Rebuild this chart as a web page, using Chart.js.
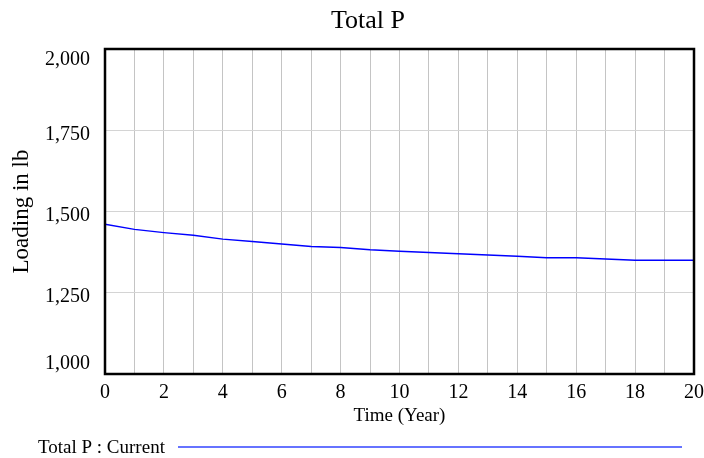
<!DOCTYPE html>
<html>
<head>
<meta charset="utf-8">
<script src="https://cdn.jsdelivr.net/npm/chart.js@4.4.0/dist/chart.umd.min.js"></script>
<style>
  html, body { margin: 0; padding: 0; background: #fff; }
  #wrap { width: 704px; height: 458px; }
</style>
</head>
<body>
<div id="wrap"><canvas id="c" width="704" height="458"></canvas></div>
<script>
const chartTitle = 'Total P';
const xAxisTitle = 'Time (Year)';
const yAxisTitle = 'Loading in lb';
const seriesLabel = 'Total P : Current';
const years = [0,1,2,3,4,5,6,7,8,9,10,11,12,13,14,15,16,17,18,19,20];
const totalP = [1461,1445,1435,1427,1415,1408,1400,1392,1389,1382,1378,1374,1370,1366,1362,1358,1358,1354,1350,1350,1350];
const yTicks = [1000,1250,1500,1750,2000];

const SERIF = "'Liberation Serif', 'Times New Roman', serif";

const framePlugin = {
  id: 'frame',
  afterDatasetsDraw(chart) {
    const { ctx, chartArea: a } = chart;
    ctx.save();
    ctx.strokeStyle = '#000';
    ctx.lineWidth = 2.5;
    ctx.strokeRect(a.left, a.top, a.right - a.left, a.bottom - a.top);
    ctx.restore();
  },
  afterDraw(chart) {
    const { ctx } = chart;
    const ys = chart.scales.y;
    ctx.save();
    ctx.fillStyle = '#000';
    ctx.textBaseline = 'middle';
    // title
    ctx.font = '26px ' + SERIF;
    ctx.textAlign = 'center';
    ctx.fillText(chartTitle, 368, 21);
    // y tick labels, kept inside the frame like the reference
    ctx.font = '20px ' + SERIF;
    ctx.textAlign = 'right';
    ys.ticks.forEach(t => {
      let py = ys.getPixelForValue(t.value);
      py = Math.min(Math.max(py + 4, ys.top + 11), ys.bottom - 10);
      ctx.fillText(t.value.toLocaleString('en-US'), ys.right - 15, py);
    });
    // legend
    ctx.font = '19px ' + SERIF;
    ctx.textAlign = 'left';
    ctx.fillText(seriesLabel, 38, 448);
    ctx.strokeStyle = '#3344ff';
    ctx.lineWidth = 1.5;
    ctx.beginPath();
    ctx.moveTo(178, 447);
    ctx.lineTo(682, 447);
    ctx.stroke();
    ctx.restore();
  }
};

new Chart(document.getElementById('c'), {
  type: 'line',
  data: {
    labels: years,
    datasets: [{
      label: seriesLabel,
      data: years.map((t, i) => ({ x: t, y: totalP[i] })),
      borderColor: '#0000ff',
      borderWidth: 1.5,
      pointRadius: 0,
      tension: 0,
      fill: false
    }]
  },
  options: {
    responsive: false,
    animation: false,
    layout: { padding: { left: 0, right: 10, top: 49, bottom: 30 } },
    plugins: {
      legend: { display: false },
      tooltip: { enabled: false },
      title: { display: false }
    },
    scales: {
      x: {
        type: 'linear',
        min: 0, max: 20,
        ticks: {
          stepSize: 1,
          autoSkip: false,
          maxRotation: 0,
          padding: 7,
          color: '#000',
          font: { family: SERIF, size: 20 },
          callback: v => (v % 2 === 0 ? String(v) : '')
        },
        grid: { color: '#c4c4c4', lineWidth: 1, drawTicks: false },
        border: { display: false },
        title: {
          display: true,
          text: xAxisTitle,
          color: '#000',
          font: { family: SERIF, size: 19 },
          padding: { top: 0, bottom: 1 }
        },
        afterFit(scale) { scale.height = 54; scale.paddingLeft = 0; scale.paddingRight = 0; }
      },
      y: {
        type: 'linear',
        min: 1000, max: 2000,
        afterBuildTicks(scale) { scale.ticks = yTicks.map(v => ({ value: v })); },
        ticks: { display: false },
        grid: { color: '#d4d4d4', lineWidth: 1, drawTicks: false },
        border: { display: false },
        title: {
          display: true,
          text: yAxisTitle,
          color: '#000',
          font: { family: SERIF, size: 23 },
          padding: { top: 8, bottom: 0 }
        },
        afterFit(scale) { scale.width = 105; }
      }
    }
  },
  plugins: [framePlugin]
});
</script>
</body>
</html>
